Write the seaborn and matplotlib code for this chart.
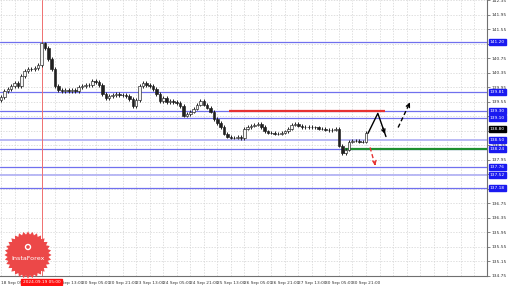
import numpy as np
import matplotlib
matplotlib.use("Agg")
import matplotlib.pyplot as plt
import matplotlib.transforms as mtransforms
from matplotlib.patches import Polygon, Circle
import seaborn as sns

# ---------------- data ----------------
closes = [139.69, 139.85, 139.91, 139.99, 140.07, 139.99, 140.26, 140.40, 140.45, 140.45,
          140.48, 140.56, 141.16, 141.03, 140.73, 140.45, 139.99, 139.88, 139.85, 139.88,
          139.85, 139.88, 139.85, 139.96, 139.99, 140.02, 140.02, 140.13, 140.10, 140.02,
          139.77, 139.66, 139.71, 139.74, 139.77, 139.74, 139.74, 139.71, 139.63, 139.44,
          139.60, 139.99, 140.07, 140.02, 139.99, 139.91, 139.77, 139.58, 139.66, 139.55,
          139.58, 139.55, 139.52, 139.44, 139.17, 139.22, 139.28, 139.36, 139.47, 139.58,
          139.47, 139.39, 139.28, 139.08, 138.97, 138.86, 138.67, 138.59, 138.56, 138.56,
          138.59, 138.54, 138.81, 138.86, 138.89, 138.92, 138.95, 138.86, 138.73, 138.70,
          138.70, 138.67, 138.67, 138.70, 138.73, 138.81, 138.92, 138.95, 138.89, 138.84,
          138.86, 138.86, 138.84, 138.84, 138.81, 138.81, 138.78, 138.76, 138.78, 138.81,
          138.34, 138.13, 138.23, 138.45, 138.48, 138.48, 138.45, 138.45, 138.70]
first_open = 139.60

level_prices = [141.20, 139.81, 139.30, 139.10, 138.50, 138.24, 137.76, 137.52, 137.18]
level_labels = ["141.20", "139.81", "139.30", "139.10", "138.50", "138.24", "137.76", "137.52", "137.18"]
level_light = [False, False, False, False, True, False, False, True, False]
bid_price = 138.80
bid_label = "138.80"

resistance = 139.30          # red line
resistance_span = (67.5, 113.6)
support = 138.24             # green line
support_start = 101.8

y_ticks = [142.35, 141.95, 141.55, 141.15, 140.75, 140.35, 139.95, 139.55, 139.15, 138.75,
           138.35, 137.95, 137.55, 137.15, 136.75, 136.35, 135.95, 135.55, 135.15, 134.75]
y_tick_labels = ["142.35", "141.95", "141.55", "141.15", "140.75", "140.35", "139.95", "139.55",
                 "139.15", "138.75", "138.35", "137.95", "137.55", "137.15", "136.75", "136.35",
                 "135.95", "135.55", "135.15", "134.75"]
# the second label sits under the cursor time box, as in the reference
x_tick_labels = ["18 Sep 05:00", "", "19 Sep 13:00", "20 Sep 05:00", "20 Sep 21:00",
                 "23 Sep 13:00", "24 Sep 05:00", "24 Sep 21:00", "25 Sep 13:00", "26 Sep 05:00",
                 "26 Sep 21:00", "27 Sep 13:00", "30 Sep 05:00", "30 Sep 21:00"]
cursor_index = 12
cursor_label = "2024.09.19 05:00"

# forecast arrows (x in candle index, y in price)
arrow_up_down_x = [108.6, 111.5, 113.9]
arrow_up_down_y = [138.68, 139.23, 138.59]
arrow_dash_up_x = [117.5, 121.0]
arrow_dash_up_y = [138.84, 139.53]
arrow_red_x = [109.2, 110.7]
arrow_red_y = [138.29, 137.79]

# ---------------- style ----------------
sns.set_theme(style="white")
plt.rcParams["font.family"] = ["DejaVu Sans"]

W, H = 510, 286
fig = plt.figure(figsize=(W / 100, H / 100), dpi=100)
ax = fig.add_axes([0, 10 / H, 487 / W, 276 / H])
ax.set_facecolor("white")

n = len(closes)
idx = np.arange(n)
opens = np.array([first_open] + closes[:-1])
cl = np.array(closes)
hi = np.maximum(opens, cl) + 0.05
lo = np.minimum(opens, cl) - 0.05

ax.set_xlim(-0.3, 143.8)
ax.set_ylim(134.74, 142.36)

# grid
for k in range(0, 40):
    ax.axvline(k * 4, color="#d2d2d2", lw=0.5, ls=(0, (2, 2)), zorder=0)
for t in y_ticks:
    ax.axhline(t, color="#d2d2d2", lw=0.5, ls=(0, (2, 2)), zorder=0)

# horizontal levels
for p, light in zip(level_prices, level_light):
    ax.axhline(p, color="#b4b4f4" if light else "#7070ee", lw=1.3 if light else 0.9, zorder=1)

# red and green lines
ax.hlines(resistance, resistance_span[0], resistance_span[1], color="#e63232", lw=1.6, zorder=3)
ax.hlines(support, support_start, 143.8, color="#1f8f2f", lw=1.6, zorder=3)

# cursor line
ax.axvline(cursor_index, color="#f07070", lw=0.7, zorder=2)

# candles
ax.vlines(idx, lo, hi, color="#202020", lw=0.7, zorder=4)
up = cl >= opens
ax.bar(idx[up], (cl - opens)[up], bottom=opens[up], width=0.75, color="#f4f4f4",
       edgecolor="#202020", linewidth=0.45, zorder=5)
ax.bar(idx[~up], (opens - cl)[~up], bottom=cl[~up], width=0.75, color="#202020",
       edgecolor="#202020", linewidth=0.45, zorder=5)

# arrows
ax.plot(arrow_up_down_x, arrow_up_down_y, color="black", lw=1.0, zorder=6)
ax.annotate("", xy=(arrow_up_down_x[-1], arrow_up_down_y[-1]),
            xytext=(arrow_up_down_x[-2] + 1.2, arrow_up_down_y[-2] - 0.33),
            arrowprops=dict(arrowstyle="->", color="black", lw=1.0, mutation_scale=6), zorder=6)
ax.plot(arrow_dash_up_x, arrow_dash_up_y, color="black", lw=1.0, ls=(0, (3, 2)), zorder=6)
ax.annotate("", xy=(arrow_dash_up_x[-1], arrow_dash_up_y[-1]),
            xytext=(arrow_dash_up_x[-1] - 0.6, arrow_dash_up_y[-1] - 0.12),
            arrowprops=dict(arrowstyle="->", color="black", lw=1.0, mutation_scale=6), zorder=6)
ax.plot(arrow_red_x, arrow_red_y, color="#e63232", lw=1.0, ls=(0, (3, 2)), zorder=6)
ax.annotate("", xy=(arrow_red_x[-1], arrow_red_y[-1]),
            xytext=(arrow_red_x[-1] - 0.2, arrow_red_y[-1] + 0.12),
            arrowprops=dict(arrowstyle="->", color="#e63232", lw=1.0, mutation_scale=6), zorder=6)

# axes / ticks
for s in ["left", "top"]:
    ax.spines[s].set_visible(False)
for s in ["right", "bottom"]:
    ax.spines[s].set_color("#707070")
    ax.spines[s].set_linewidth(0.8)
ax.yaxis.tick_right()
ax.set_yticks(y_ticks)
ax.set_yticklabels(y_tick_labels, fontsize=3.2, color="#333333")
ax.tick_params(axis="y", length=2, width=0.5, pad=1, colors="#555555")
ax.set_xticks([8 * k for k in range(len(x_tick_labels))])
ax.set_xticklabels(x_tick_labels, fontsize=3.1, color="#333333", ha="left")
ax.tick_params(axis="x", length=2, width=0.5, pad=1.5, colors="#555555")
for lab in ax.get_xticklabels() + ax.get_yticklabels():
    lab.set_color("#333333")

# price boxes on right axis
trans = mtransforms.blended_transform_factory(ax.transAxes, ax.transData)
for p, lab in zip(level_prices, level_labels):
    ax.text(1.006, p, lab, transform=trans, fontsize=3.2, color="white", va="center", ha="left",
            bbox=dict(boxstyle="square,pad=0.25", fc="#1a1af0", ec="#1a1af0"), zorder=10,
            clip_on=False)
ax.text(1.006, bid_price, bid_label, transform=trans, fontsize=3.2, color="white", va="center",
        ha="left", bbox=dict(boxstyle="square,pad=0.25", fc="black", ec="black"), zorder=10,
        clip_on=False)

# cursor time label
transx = mtransforms.blended_transform_factory(ax.transData, ax.transAxes)
ax.text(cursor_index, -0.022, cursor_label, transform=transx, fontsize=3.1, color="white",
        ha="center", va="center", bbox=dict(boxstyle="square,pad=0.3", fc="#ff1010", ec="#ff1010"),
        zorder=10, clip_on=False)

# logo
cx, cy, ro, ri = 28, H - 255, 23.5, 20.5
ang = np.linspace(0, 2 * np.pi, 64, endpoint=False)
rr = np.where(np.arange(64) % 2 == 0, ro, ri)
pts = np.column_stack([cx + rr * np.cos(ang), cy + rr * np.sin(ang)])
fig.patches.append(Polygon(pts, closed=True, transform=None, fc="#ec4848", ec="none", zorder=20))
fig.patches.append(Circle((cx, cy + 8), 3.2, transform=None, fc="white", ec="none", zorder=21))
fig.patches.append(Circle((cx, cy + 8), 1.8, transform=None, fc="#ec4848", ec="none", zorder=22))
fig.text(cx / W, (cy - 3) / H, "InstaForex", fontsize=4.6, color="white", ha="center", va="center",
         zorder=23)

fig.savefig("out.png", dpi=100, facecolor="white")
